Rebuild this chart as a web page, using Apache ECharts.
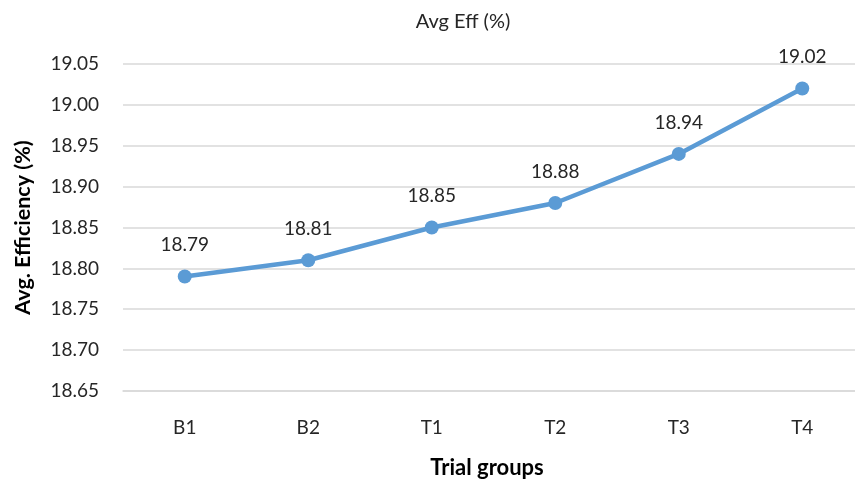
<!DOCTYPE html>
<html>
<head>
<meta charset="utf-8">
<script src="https://cdn.jsdelivr.net/npm/echarts@6/dist/echarts.min.js"></script>
<style>html,body{margin:0;padding:0;background:#fff;overflow:hidden;width:855px;height:484px}#c{width:864px;height:484px}</style>
</head>
<body>
<div id="c"></div>
<script>
const categories = ['B1', 'B2', 'T1', 'T2', 'T3', 'T4'];
const avgEff = [18.79, 18.81, 18.85, 18.88, 18.94, 19.02];
const chartTitle = 'Avg Eff (%)';
const yName = 'Avg. Efficiency (%)';
const xName = 'Trial groups';

const chart = echarts.init(document.getElementById('c'));
const F = 'Lato';
chart.setOption({
  animation: false,
  backgroundColor: '#fff',
  graphic: [{
    type: 'text', x: 463, y: 22,
    style: { text: chartTitle, fontSize: 20, fontFamily: F, fill: '#262626', align: 'center', verticalAlign: 'middle' }
  }],
  grid: { left: 123, top: 64, right: 0, height: 329 },
  xAxis: {
    type: 'category', data: categories, boundaryGap: true,
    axisLine: { lineStyle: { color: '#d9d9d9', width: 1.5 } },
    axisTick: { show: false },
    axisLabel: { color: '#262626', fontSize: 19, fontFamily: F, margin: 27 },
    name: xName, nameLocation: 'middle', nameGap: 66,
    nameTextStyle: { color: '#000', fontSize: 22, fontWeight: 'bold', fontFamily: F, padding: [0, 0, 0, -13] }
  },
  yAxis: {
    type: 'value', min: 18.65, max: 19.05, interval: 0.05,
    axisLine: { show: false }, axisTick: { show: false },
    splitLine: { lineStyle: { color: '#d9d9d9', width: 1.5 } },
    axisLabel: { color: '#262626', fontSize: 19, fontFamily: F, margin: 24, formatter: v => v.toFixed(2) },
    name: yName, nameLocation: 'middle', nameGap: 89, nameRotate: 90,
    nameTextStyle: { color: '#000', fontSize: 21.5, fontWeight: 'bold', fontFamily: F }
  },
  series: [{
    type: 'line', data: avgEff,
    symbol: 'circle', symbolSize: 14,
    lineStyle: { color: '#5b9bd5', width: 4.5 },
    itemStyle: { color: '#5b9bd5' },
    label: { show: true, position: 'top', distance: 15, color: '#262626', fontSize: 19, fontFamily: F, formatter: p => p.value.toFixed(2) }
  }]
});
</script>
</body>
</html>
